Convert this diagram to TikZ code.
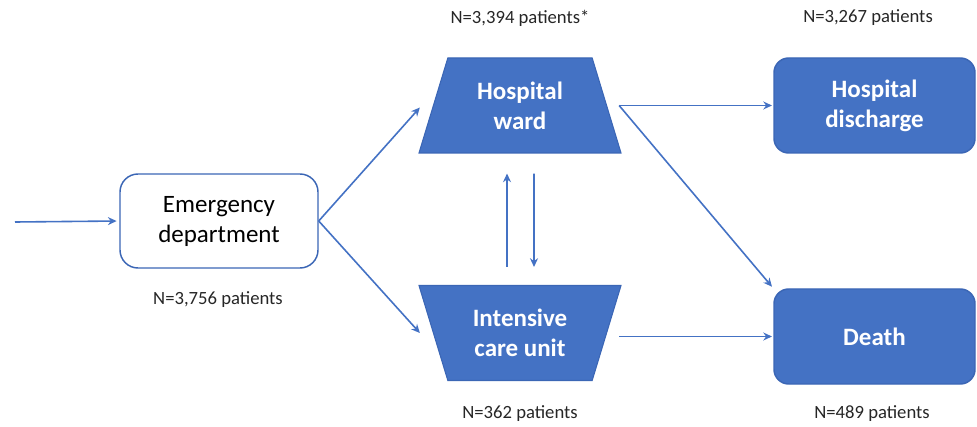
\documentclass[tikz,border=0pt]{standalone}
\usepackage{fontspec}
\setmainfont{Carlito}
\usetikzlibrary{shapes.geometric,arrows.meta}
\definecolor{wardblue}{HTML}{4472C4}
\definecolor{edgeblue}{HTML}{3B66B5}
\definecolor{labelgrey}{HTML}{262626}

\begin{document}
\begin{tikzpicture}[x=0.75pt,y=-0.75pt,
  box/.style={draw=edgeblue,line width=1.1pt,rounded corners=11pt,minimum width=150.75pt,minimum height=71.25pt,align=center,font=\fontsize{18.75}{22.5}\selectfont},
  fullbox/.style={box,fill=wardblue,text=white,font=\fontsize{18.75}{22.5}\selectfont\bfseries},
  unit/.style={trapezium,trapezium stretches body,fill=wardblue,draw=edgeblue,line width=0.8pt,minimum width=151.5pt,minimum height=71.25pt,align=center,text=white,font=\fontsize{18.75}{22.5}\selectfont\bfseries},
  count/.style={text=labelgrey,font=\fontsize{14}{16}\selectfont},
  arr/.style={draw=wardblue,line width=1.2pt,-{Stealth[length=6.5pt,width=6pt]}}]
  \useasboundingbox (0,0) rectangle (977,427);

  % stations
  \node[box,rounded corners=13.5pt,minimum width=148.5pt,minimum height=70.5pt] (ed) at (219,221) {Emergency\\department};
  \node[unit,trapezium left angle=63,trapezium right angle=63] (hw) at (520,105.5) {Hospital\\ward};
  \node[unit,trapezium left angle=117,trapezium right angle=117] (icu) at (520,333) {Intensive\\care unit};
  \node[fullbox] (dc) at (874.5,105.5) {Hospital\\discharge};
  \node[fullbox] (dth) at (874.5,336.5) {Death};
  \coordinate (in) at (15,222);

  % counts
  \node[count] (edn) at (218,300) {N=3,756 patients};
  \node[count] (hwn) at (520,18) {N=3,394 patients*};
  \node[count] (icun) at (520,414) {N=362 patients};
  \node[count] (dcn) at (868,18) {N=3,267 patients};
  \node[count] (dthn) at (872,414) {N=489 patients};

  % flows
  \draw[arr,shorten >=2pt] (in) -- (ed.west);
  \draw[arr] (ed.east) -- ([xshift=-9.75pt,yshift=-1.5pt]hw.left side);
  \draw[arr] (ed.east) -- ([xshift=-9.75pt]icu.left side);
  \draw[arr,shorten >=1pt] ([xshift=9pt]hw.right side) -- (dc.west);
  \draw[arr,shorten >=1.5pt] ([xshift=9pt]hw.right side) -- (dth.north west);
  \draw[arr,shorten >=1pt] ([xshift=9pt]icu.right side |- dth.west) -- (dth.west);
  \draw[arr] ([xshift=-9.75pt,yshift=13.5pt]icu.north) -- ([xshift=-9.75pt,yshift=-15pt]hw.south);
  \draw[arr] ([xshift=10.5pt,yshift=-15pt]hw.south) -- ([xshift=10.5pt,yshift=13.5pt]icu.north);
\end{tikzpicture}
\end{document}
